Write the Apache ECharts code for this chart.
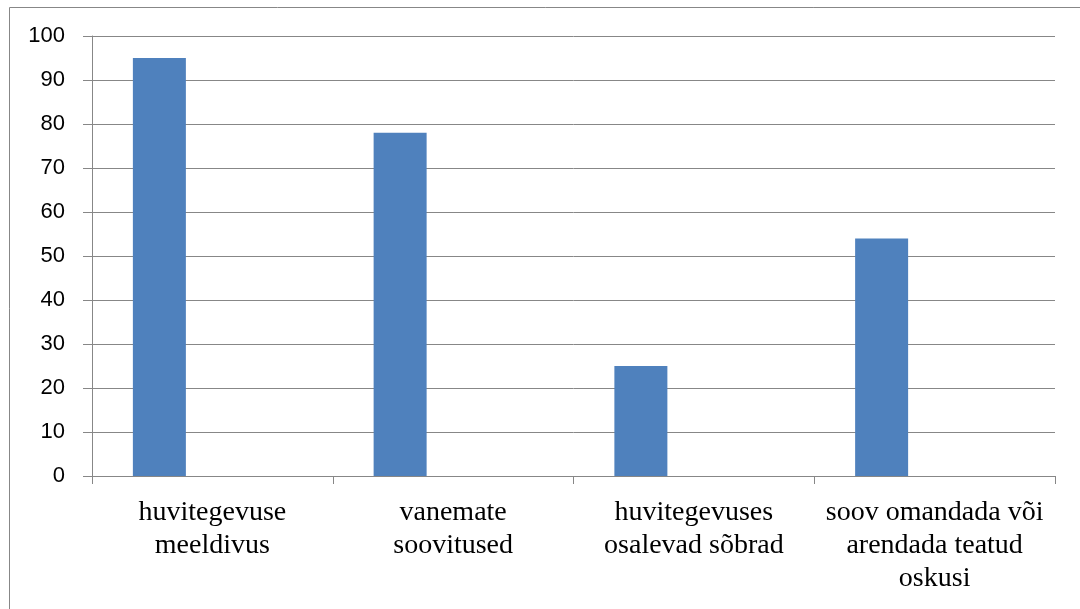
<!DOCTYPE html>
<html>
<head>
<meta charset="utf-8">
<script src="https://cdn.jsdelivr.net/npm/echarts@6/dist/echarts.min.js"></script>
<style>
html,body{margin:0;padding:0;background:#fff;}
#chart{width:1080px;height:609px;}
</style>
</head>
<body>
<div id="chart"></div>
<script>
const categories = ["huvitegevuse\nmeeldivus", "vanemate\nsoovitused", "huvitegevuses\nosalevad sõbrad", "soov omandada või\narendada teatud\noskusi"];
const values = [95, 78, 25, 54];
const emptySeriesA = [null, null, null, null];
const emptySeriesB = [null, null, null, null];
const yTicks = [0, 10, 20, 30, 40, 50, 60, 70, 80, 90, 100];

const chart = echarts.init(document.getElementById('chart'));
const gray = '#878787';
chart.setOption({
  animation: false,
  backgroundColor: '#ffffff',
  graphic: [{
    type: 'rect',
    shape: {x: 9.5, y: 7.5, width: 1200, height: 800},
    style: {fill: 'none', stroke: gray, lineWidth: 1},
    silent: true
  }],
  grid: {left: 92, right: 25, top: 36, bottom: 133, containLabel: false},
  xAxis: {
    type: 'category',
    data: categories,
    axisLine: {lineStyle: {color: gray, width: 1}},
    axisTick: {show: true, length: 8, lineStyle: {color: gray}},
    axisLabel: {
      interval: 0,
      margin: 20,
      color: '#000',
      fontFamily: '"Liberation Serif", "Times New Roman", serif',
      fontSize: 28,
      lineHeight: 33
    },
    splitLine: {show: false}
  },
  yAxis: {
    type: 'value',
    min: yTicks[0],
    max: yTicks[yTicks.length - 1],
    interval: 10,
    axisLine: {show: true, lineStyle: {color: gray, width: 1}},
    axisTick: {show: true, length: 9, lineStyle: {color: gray}},
    axisLabel: {
      margin: 27,
      color: '#000',
      fontFamily: '"Liberation Sans", Arial, sans-serif',
      fontSize: 22
    },
    splitLine: {show: true, lineStyle: {color: gray, width: 1}}
  },
  series: [
    {type: 'bar', data: values, barWidth: 53, barGap: '0%', itemStyle: {color: '#4f81bd'}},
    {type: 'bar', data: emptySeriesA, barWidth: 53, barGap: '0%'},
    {type: 'bar', data: emptySeriesB, barWidth: 53, barGap: '0%'}
  ]
});
</script>
</body>
</html>
